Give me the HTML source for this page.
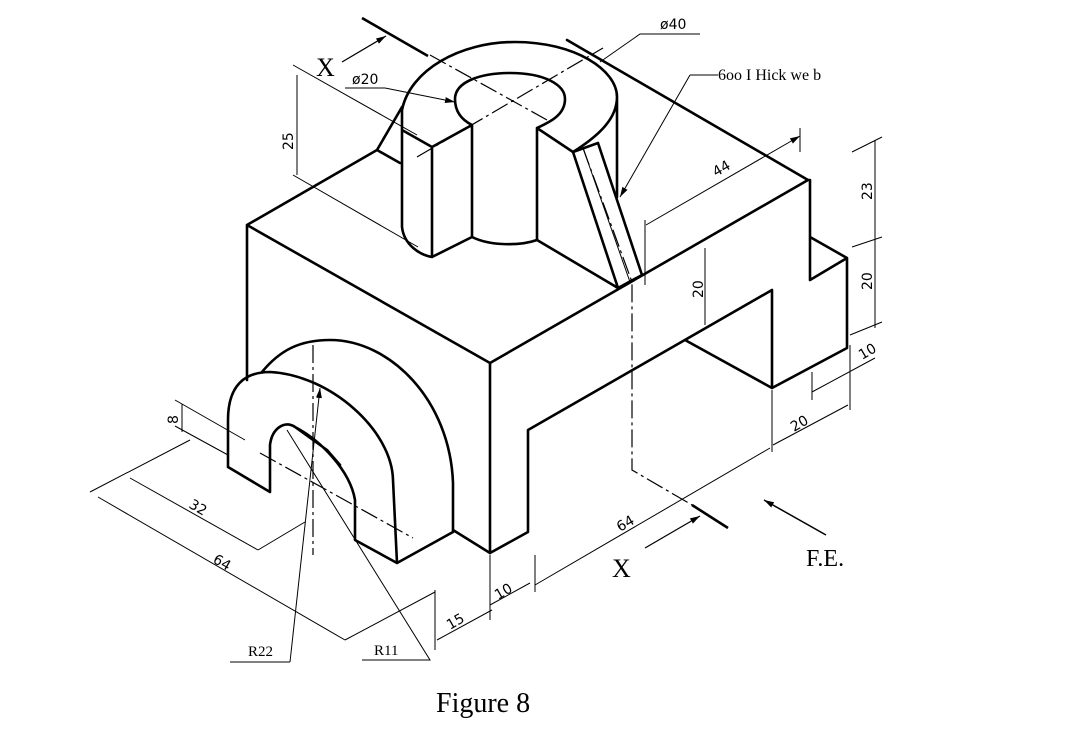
<!DOCTYPE html>
<html><head><meta charset="utf-8"><style>
html,body{margin:0;padding:0;background:#fff;}
svg{display:block;}
.o{fill:none;stroke:#000;stroke-width:2.6;stroke-linejoin:round;stroke-linecap:round}
.t{fill:none;stroke:#000;stroke-width:1}
.c{fill:none;stroke:#000;stroke-width:1.2;stroke-dasharray:18 4 3 4}
.d{font-family:"DejaVu Sans",sans-serif;font-size:14px;fill:#000}
.s{font-family:"Liberation Serif",serif;fill:#000}
</style></head><body>
<svg width="1073" height="734" viewBox="0 0 1073 734" xmlns="http://www.w3.org/2000/svg">
<defs><marker id="a" markerWidth="10" markerHeight="6" refX="10" refY="3" orient="auto" markerUnits="userSpaceOnUse"><path d="M0,0 L10,3 L0,6z" fill="#000"/></marker></defs>
<rect width="1073" height="734" fill="#fff"/>
<!-- main block -->
<path class="o" d="M247,225 L490,363 L808,180 L567,40 M247,225 L377,150 M247,225 L247,380 M490,363 L490,553 M490,553 L528,532 L528,430 L772,290 L772,388 L847,348 L847,258 L810,237 M810,180 L810,280 L847,258 M808,180 L810,180 M685,340 L772,388"/>
<!-- arch -->
<path class="o" d="M228,467 L270,492 L270,445 C272,428 285,420 295,427 C320,440 350,470 355,500 L355,540 L397,563 L453,532 M228,467 L228,420 C228,385 245,372 270,372 C330,375 392,430 393,480 L397,563 M453,532 L453,483 C450,400 390,340 330,340 C300,340 280,350 262,372 M453,530 L490,553 M327,450 L340,465 M295,427 L327,450 L340,465"/>
<!-- boss -->
<ellipse class="o" cx="510" cy="98" rx="107" ry="56" style="display:none"/>
<path class="o" d="M402,110 C410,70 460,42 515,42 C575,42 617,70 617,97 C617,118 600,135 573,152 M432,147 L402,130 M402,110 L402,227 C404,245 420,255 432,257 L472,237 L472,125 L432,147 L432,257 M537,128 L573,152 M537,128 L537,240 C520,246 490,246 472,237 M617,97 L617,197 M455,99 C455,82 480,73 510,73 C545,73 565,85 565,99 C565,115 550,122 537,128 M455,99 C455,112 462,120 472,125"/>
<path class="o" d="M377,150 L402,107 M377,150 L400,163 M573,152 L618,288 M598,143 L642,275 M573,152 L598,143 M618,288 L642,275 M537,240 L618,288"/>
<path class="t" d="M583,148 L630,282"/>
<!-- centerlines -->
<path class="c" d="M430,55 L547,120 M417,157 L603,48 M583,148 L632,282 L632,470 L692,505 M313,345 L313,555 M260,453 L413,538"/>
<path d="M362,18 L428,56 M692,505 L728,528" stroke="#000" stroke-width="2.6"/>
<!-- X marks -->
<line x1="342" y1="62" x2="386" y2="36" stroke="#000" stroke-width="1.3" marker-end="url(#a)"/>
<text class="s" x="316" y="76" font-size="26">X</text>
<line x1="645" y1="548" x2="700" y2="516" stroke="#000" stroke-width="1.3" marker-end="url(#a)"/>
<text class="s" x="612" y="577" font-size="26">X</text>
<line x1="826" y1="535" x2="764" y2="500" stroke="#000" stroke-width="1.5" marker-end="url(#a)"/>
<text class="s" x="806" y="566" font-size="24">F.E.</text>
<!-- dims top -->
<path class="t" d="M293,65 L417,135 M293,175 L418,247 M297,75 L297,175"/>
<text class="d" transform="translate(293,150) rotate(-90)">25</text>
<path class="t" d="M345,88 L385,88" /><line class="t" x1="385" y1="88" x2="455" y2="102" marker-end="url(#a)"/>
<text class="d" x="352" y="84">ø20</text>
<path class="t" d="M700,34 L640,34 L600,62"/>
<text class="d" x="660" y="29">ø40</text>
<path class="t" d="M718,75 L690,75"/><line class="t" x1="690" y1="75" x2="620" y2="197" marker-end="url(#a)"/>
<text class="s" x="718" y="80" font-size="16">6oo I Hick we b</text>
<path class="t" d="M645,220 L645,285 M800,128 L800,152"/>
<line class="t" x1="646" y1="225" x2="800" y2="136" marker-end="url(#a)"/>
<text class="d" transform="translate(716,177) rotate(-30)">44</text>
<line class="t" x1="705" y1="248" x2="705" y2="325"/>
<text class="d" transform="translate(703,298) rotate(-90)">20</text>
<!-- right dims -->
<path class="t" d="M852,152 L882,137 M852,247 L882,237 M850,335 L882,322 M875,140 L875,328"/>
<text class="d" transform="translate(872,200) rotate(-90)">23</text>
<text class="d" transform="translate(872,290) rotate(-90)">20</text>
<path class="t" d="M850,345 L850,410 M812,372 L812,400 M812,392 L875,358"/>
<text class="d" transform="translate(862,360) rotate(-30)">10</text>
<path class="t" d="M772,390 L772,452 M773,445 L848,405"/>
<text class="d" transform="translate(794,432) rotate(-30)">20</text>
<path class="t" d="M535,555 L535,592 M535,585 L770,448"/>
<text class="d" transform="translate(620,532) rotate(-30)">64</text>
<path class="t" d="M490,555 L490,620 M490,605 L530,583"/>
<text class="d" transform="translate(498,600) rotate(-30)">10</text>
<path class="t" d="M435,590 L435,650 M437,640 L492,610"/>
<text class="d" transform="translate(450,630) rotate(-30)">15</text>
<!-- left dims -->
<path class="t" d="M90,492 L190,440 M98,497 L345,640 M345,640 L435,592 M130,478 L258,550 M258,550 L305,522 M175,400 L245,440 M175,426 L228,455 M182,404 L182,432"/>
<text class="d" transform="translate(188,507) rotate(30)">32</text>
<text class="d" transform="translate(212,562) rotate(30)">64</text>
<text class="d" transform="translate(178,424) rotate(-90)">8</text>
<!-- radii -->
<path class="t" d="M230,662 L290,662"/><line class="t" x1="290" y1="662" x2="320" y2="388" marker-end="url(#a)"/>
<text class="s" x="248" y="656" font-size="15">R22</text>
<path class="t" d="M362,660 L430,660 L287,430"/>
<text class="s" x="374" y="655" font-size="15">R11</text>
<text class="s" x="436" y="712" font-size="28">Figure 8</text>
</svg>
</body></html>
